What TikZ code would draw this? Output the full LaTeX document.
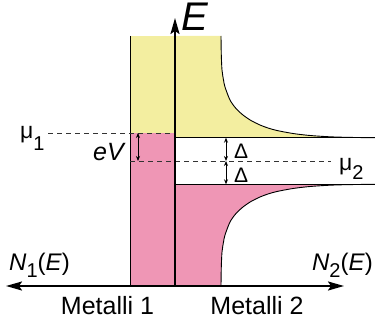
\documentclass[tikz,border=0pt]{standalone}
\usepackage{fontspec}
\setmainfont{Liberation Sans}
\usetikzlibrary{arrows.meta}
\definecolor{ylw}{RGB}{243,238,160}
\definecolor{pnk}{RGB}{239,150,181}
\newcommand{\subf}{\fontsize{20}{20}\selectfont}
\begin{document}
\begin{tikzpicture}[x=1pt,y=-1pt,
  axisline/.style={line width=2pt,-{Stealth[length=16pt,width=9pt,inset=3pt]}},
  bothaxis/.style={line width=2pt,{Stealth[length=16pt,width=9pt,inset=3pt]}-{Stealth[length=16pt,width=9pt,inset=3pt]}},
  thinline/.style={line width=0.9pt},
  dashline/.style={line width=0.7pt,black!80,dash pattern=on 5pt off 4pt},
  smallarrow/.style={line width=0.8pt,{Stealth[length=5pt,width=4pt]}-{Stealth[length=5pt,width=4pt]}},
  lbl/.style={font=\fontsize{25}{30}\selectfont,inner sep=0pt},
  mulbl/.style={font=\fontsize{23}{28}\selectfont,inner sep=0pt},
  dlbl/.style={font=\fontsize{21}{25}\selectfont,inner sep=0pt},
  nlbl/.style={font=\fontsize{24}{28}\selectfont,inner sep=0pt}]
\useasboundingbox (0,0) rectangle (375,321);
% named coordinates
\coordinate (O) at (175,286);
\coordinate (Etop) at (175,18);
\coordinate (Nleft) at (6,286);
\coordinate (Nright) at (344,286);
\coordinate (m1a) at (48,133);
\coordinate (m1b) at (175,133);
\coordinate (m2a) at (130,161);
\coordinate (m2b) at (331,161);
\coordinate (R1tl) at (130,36);
\coordinate (R1bl) at (130,286);
\coordinate (gapT) at (175,137.7);
\coordinate (gapTr) at (375,137.7);
\coordinate (gapB) at (175,184.3);
\coordinate (gapBr) at (375,184.3);
\coordinate (eVt) at (138,133);
\coordinate (eVb) at (138,161);
\coordinate (dT) at (226,137.7);
\coordinate (dM) at (226,161);
\coordinate (dB) at (226,184.3);
% metal 1
\fill[ylw] (130,36) rectangle (175,133);
\fill[pnk] (130,133) rectangle (175,286);
% metal 2 fills
\fill[ylw] (175,36) -- plot[smooth] coordinates {(221,36) (221.3,55) (222,70) (223.5,80) (225,87) (230,100) (236,108.5) (243,115) (251,120.5) (260,125) (268,128) (277,130.5) (293,133.5) (310,135.5) (330,136.8) (350,137.4) (375,137.7)} -- (gapT) -- cycle;
\fill[pnk] (175,286) -- plot[smooth] coordinates {(221,286) (221.3,267) (222,252) (223.5,242) (225,235) (230,222) (236,213.5) (243,207) (251,201.5) (260,197) (268,194) (277,191.5) (293,188.5) (310,186.5) (330,185.2) (350,184.6) (375,184.3)} -- (gapB) -- cycle;
% curves
\draw[thinline] plot[smooth] coordinates {(221,36) (221.3,55) (222,70) (223.5,80) (225,87) (230,100) (236,108.5) (243,115) (251,120.5) (260,125) (268,128) (277,130.5) (293,133.5) (310,135.5) (330,136.8) (350,137.4) (375,137.7)};
\draw[thinline] plot[smooth] coordinates {(221,286) (221.3,267) (222,252) (223.5,242) (225,235) (230,222) (236,213.5) (243,207) (251,201.5) (260,197) (268,194) (277,191.5) (293,188.5) (310,186.5) (330,185.2) (350,184.6) (375,184.3)};
\draw[thinline] (gapT) -- (gapTr);
\draw[thinline] (gapB) -- (gapBr);
\draw[thinline] (R1tl) -- (R1bl);
% dashed levels
\draw[dashline] (m1a) -- (m1b);
\draw[dashline] (m2a) -- (m2b);
% small arrows
\draw[smallarrow] (eVt) -- (eVb);
\draw[smallarrow] (dT) -- (dM);
\draw[smallarrow] (dM) -- (dB);
% axes
\draw[axisline] (O) -- (Etop);
\draw[bothaxis] (Nleft) -- (Nright);
% labels
\node[font=\fontsize{40}{40}\selectfont\itshape,inner sep=0pt] (Elbl) at (195,16.5) {E};
\node[mulbl,anchor=base west] (mu1) at (20,138) {μ\raisebox{-13pt}{\subf 1}};
\node[mulbl,anchor=base west] (mu2) at (339,170) {μ\raisebox{-9pt}{\subf 2}};
\node[lbl,anchor=base east,font=\fontsize{25}{30}\selectfont\itshape] (eV) at (124,160) {eV};
\node[dlbl,anchor=base west] (D1) at (234,158) {Δ};
\node[dlbl,anchor=base west] (D2) at (234,182) {Δ};
\node[nlbl,anchor=base west] (N1) at (9,270) {\textit{N}\raisebox{-7pt}{\subf 1}(\textit{E})};
\node[nlbl,anchor=base east] (N2) at (373,270) {\textit{N}\raisebox{-7pt}{\subf 2}(\textit{E})};
\node[lbl,anchor=base] (M1) at (107.5,314) {Metalli 1};
\node[lbl,anchor=base] (M2) at (257,314) {Metalli 2};
\end{tikzpicture}
\end{document}
